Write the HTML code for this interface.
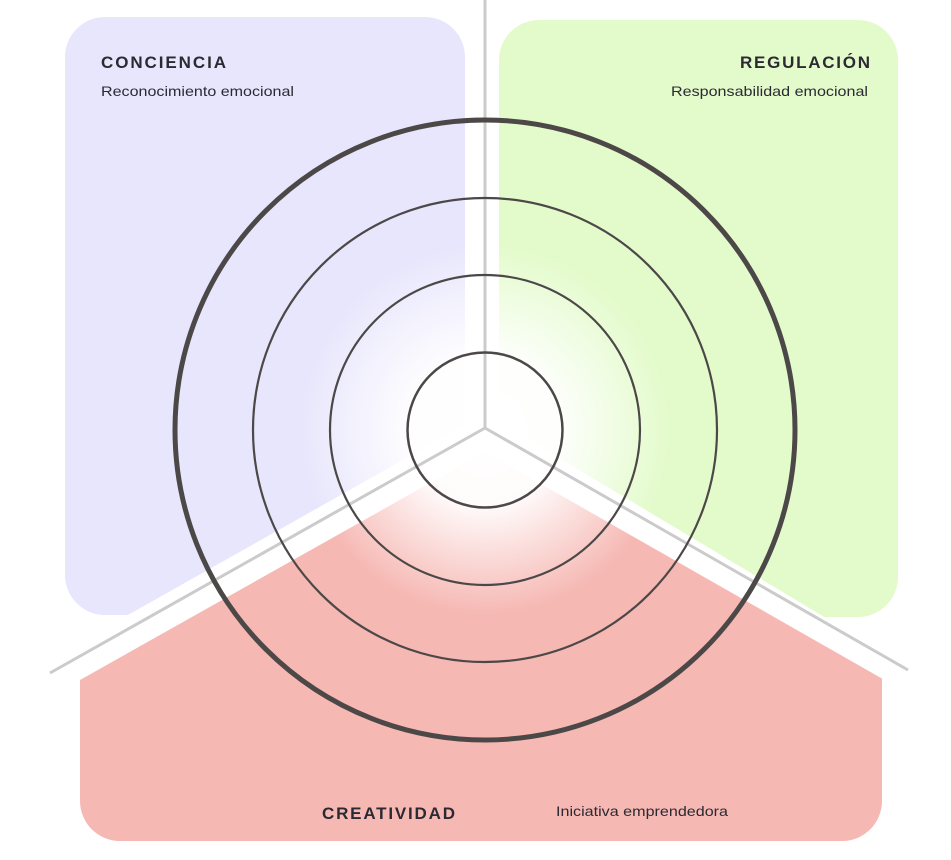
<!DOCTYPE html>
<html><head><meta charset="utf-8"><style>
html,body{margin:0;padding:0;background:#fff;}
svg{display:block;}
text{font-family:"Liberation Sans",sans-serif;fill:#2b2a33;}
</style></head><body>
<svg width="951" height="860" viewBox="0 0 951 860" xmlns="http://www.w3.org/2000/svg">
<defs>
<clipPath id="cp1"><polygon points="0,0 465,0 465,425 0,687"/></clipPath>
<clipPath id="cp2"><polygon points="499,0 951,0 951,693 499,422"/></clipPath>
<clipPath id="cp3"><polygon points="485,452 0,725 0,860 951,860 951,718"/></clipPath>
<radialGradient id="wg" cx="485" cy="430" r="185" gradientUnits="userSpaceOnUse">
<stop offset="0" stop-color="#fff" stop-opacity="1"/>
<stop offset="0.4" stop-color="#fff" stop-opacity="0.95"/>
<stop offset="1" stop-color="#fff" stop-opacity="0"/>
</radialGradient>
</defs>
<rect x="65" y="17" width="400" height="598" rx="40" fill="#e8e6fc" clip-path="url(#cp1)"/>
<rect x="499" y="20" width="399" height="597" rx="40" fill="#e3fbcb" clip-path="url(#cp2)"/>
<rect x="80" y="440" width="802" height="401" rx="40" fill="#f6b8b3" clip-path="url(#cp3)"/>
<circle cx="485" cy="430" r="185" fill="url(#wg)"/>
<g stroke="#cbcbcb" stroke-width="3" fill="none">
<line x1="485" y1="0" x2="485" y2="428"/>
<line x1="485" y1="428" x2="50" y2="673"/>
<line x1="485" y1="428" x2="908" y2="670"/>
</g>
<g fill="none" stroke="#4d4848">
<circle cx="485" cy="430" r="310" stroke-width="5"/>
<circle cx="485" cy="430" r="232" stroke-width="2.2"/>
<circle cx="485" cy="430" r="155" stroke-width="2.2"/>
<circle cx="485" cy="430" r="77.5" stroke-width="2.5"/>
</g>
<text x="101" y="68" font-size="17" font-weight="bold" textLength="125" lengthAdjust="spacing">CONCIENCIA</text>
<text x="101" y="96" font-size="14" textLength="193" lengthAdjust="spacingAndGlyphs">Reconocimiento emocional</text>
<text x="740" y="68" font-size="17" font-weight="bold" textLength="130" lengthAdjust="spacing">REGULACIÓN</text>
<text x="671" y="96" font-size="14" textLength="197" lengthAdjust="spacingAndGlyphs">Responsabilidad emocional</text>
<text x="322" y="819" font-size="17" font-weight="bold" textLength="133" lengthAdjust="spacing">CREATIVIDAD</text>
<text x="556" y="816" font-size="14" textLength="172" lengthAdjust="spacingAndGlyphs">Iniciativa emprendedora</text>
</svg>
</body></html>
